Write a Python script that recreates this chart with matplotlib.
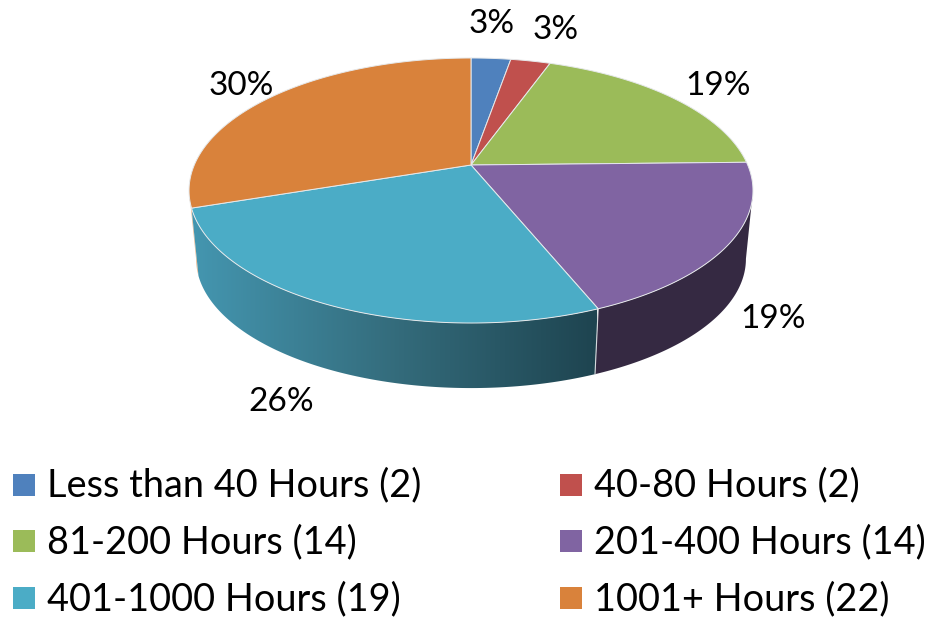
import numpy as np
from matplotlib import pyplot as plt
from matplotlib.patches import Polygon, Rectangle

categories = ['Less than 40 Hours', '40-80 Hours', '81-200 Hours',
              '201-400 Hours', '401-1000 Hours', '1001+ Hours']
counts = [2, 2, 14, 14, 19, 22]
percent_labels = ['3%', '3%', '19%', '19%', '26%', '30%']
colors = ['#4f81bd', '#c0504d', '#9bbb59', '#8064a2', '#4bacc6', '#d9823b']
side_colors = ['#3a5f8c', '#8e3b39', '#728a42', '#352942', '#3f8ba3', '#e8b890']

plt.rcParams['font.family'] = ['Lato', 'DejaVu Sans']

fig = plt.figure(figsize=(9.3, 6.19), dpi=100)
ax = fig.add_axes([0, 0, 1, 1])
ax.set_xlim(0, 930)
ax.set_ylim(619, 0)
ax.axis('off')

# 透视的饼图：圆盘投影到画面上
cx, cy = 471, 165
a, b, k = 276.7, 127.6, 0.1925


def top_pts(theta):
    u, v = np.sin(theta), np.cos(theta)
    d = 1 + k * v
    return np.column_stack([cx + a * u / d, cy - b * v / d])


def bottom_pts(theta):
    p = top_pts(theta)
    p[:, 0] = cx + (p[:, 0] - cx) * 0.975
    p[:, 1] = cy + (p[:, 1] - cy) * 0.975 + 69
    return p


edges = np.cumsum([0] + counts) / sum(counts) * 2 * np.pi

# 只画看得见的那段侧面
t_right = np.arccos(-k)
t_left = 2 * np.pi - t_right

# 侧面
for i in range(len(counts)):
    t0 = max(edges[i], t_right)
    t1 = min(edges[i + 1], t_left)
    if t0 >= t1:
        continue
    t = np.linspace(t0, t1, 120)
    side = np.vstack([top_pts(t), bottom_pts(t)[::-1]])
    if categories[i] == '401-1000 Hours':
        grad = np.linspace(0, 1, 256).reshape(1, -1, 1)
        left = np.array([68, 150, 176]) / 255
        mid = np.array([52, 108, 124]) / 255
        right = np.array([30, 68, 80]) / 255
        g = np.where(grad < 0.5, left + (mid - left) * grad * 2,
                     mid + (right - mid) * (grad - 0.5) * 2)
        poly = Polygon(side, closed=True, fc='none', ec='none', zorder=2)
        ax.add_patch(poly)
        im = ax.imshow(g, extent=(192, 596, 400, 200), aspect='auto', zorder=2)
        im.set_clip_path(poly)
        ax.set_xlim(0, 930)
        ax.set_ylim(619, 0)
    else:
        ax.add_patch(Polygon(side, closed=True, fc=side_colors[i], ec='none', zorder=1))

# 侧面之间的分界线
t = edges[4:5]
ax.plot([top_pts(t)[0, 0], bottom_pts(t)[0, 0]],
        [top_pts(t)[0, 1], bottom_pts(t)[0, 1]],
        color='#d5dadd', linewidth=0.8, zorder=3)

# 顶面
for i in range(len(counts)):
    t = np.linspace(edges[i], edges[i + 1], 120)
    wedge = np.vstack([[cx, cy], top_pts(t)])
    ax.add_patch(Polygon(wedge, closed=True, fc=colors[i], ec='#e6e9eb',
                         linewidth=0.7, zorder=4))

# 百分比标签
label_xy = [(492, 24), (556, 30), (718, 86), (773, 319), (281, 402), (241, 86)]
for s, (x, y) in zip(percent_labels, label_xy):
    ax.text(x, y, s, fontsize=24, ha='center', va='center', color='black')

# 图例，两列三行
legend_x = [13, 560]
legend_y = [484.5, 541, 598]
for i in range(len(categories)):
    x = legend_x[i % 2]
    y = legend_y[i // 2]
    ax.add_patch(Rectangle((x, y - 11), 22, 22, fc=colors[i], ec='none'))
    ax.text(x + 34, y + 1, '%s (%d)' % (categories[i], counts[i]), fontsize=27.3,
            ha='left', va='center', color='black')

plt.savefig('out.png', dpi=100)
